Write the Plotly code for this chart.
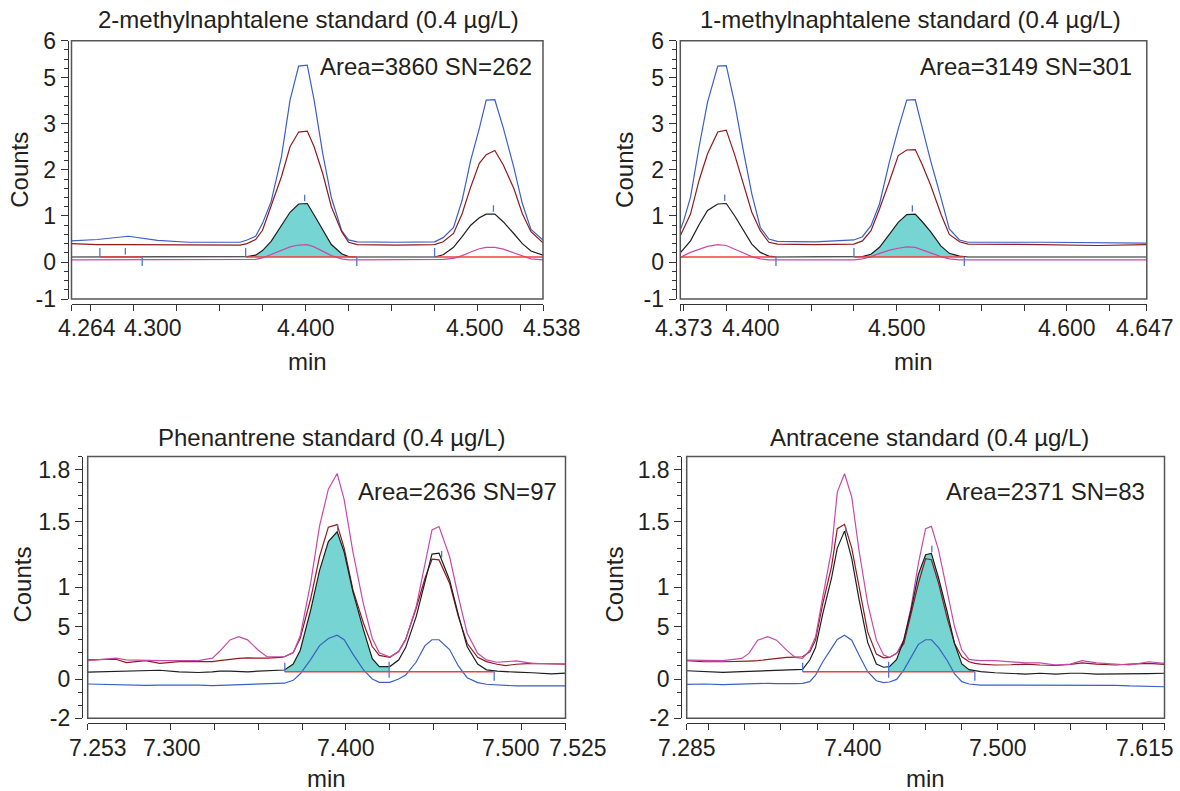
import numpy as np
import plotly.graph_objects as go

W, H = 1180, 791

# ---------------- texts ----------------
titles = ["2-methylnaphtalene standard (0.4 µg/L)", "1-methylnaphtalene standard (0.4 µg/L)",
          "Phenantrene standard (0.4 µg/L)", "Antracene standard (0.4 µg/L)"]
area_text = ["Area=3860 SN=262", "Area=3149 SN=301", "Area=2636 SN=97", "Area=2371 SN=83"]

y_top_tickvals = [-0.8, 0, 1, 2, 3, 4, 4.8]
y_top_ticktext = ["-1", "0", "1", "2", "3", "5", "6"]
y_bot_tickvals = [-0.4, -0.1, 0.3, 0.6, 1.1, 1.5]
y_bot_ticktext = ["-2", "0", "5", "1", "1.5", "1.8"]

# ---------------- 2-methylnaphtalene (top left) ----------------
tl_time = [4.264, 4.279, 4.297, 4.314, 4.332, 4.362, 4.366, 4.371, 4.375, 4.380, 4.386, 4.391, 4.396,
           4.401, 4.405, 4.410, 4.415, 4.421, 4.425, 4.430, 4.453, 4.475, 4.480, 4.486, 4.491, 4.496,
           4.501, 4.505, 4.510, 4.515, 4.521, 4.526, 4.531, 4.538]
tl_blue = [0.46, 0.49, 0.56, 0.47, 0.43, 0.43, 0.48, 0.56, 0.84, 1.31, 2.28, 3.51, 4.25, 4.27, 3.51,
           2.35, 1.40, 0.68, 0.48, 0.44, 0.43, 0.44, 0.53, 0.75, 1.34, 2.21, 2.90, 3.51, 3.52, 2.90,
           2.06, 1.27, 0.71, 0.48]
tl_dred = [0.40, 0.38, 0.38, 0.38, 0.37, 0.37, 0.40, 0.49, 0.69, 1.20, 1.85, 2.50, 2.82, 2.84, 2.50,
           1.92, 1.20, 0.66, 0.43, 0.38, 0.37, 0.38, 0.44, 0.62, 1.05, 1.63, 2.14, 2.33, 2.42, 2.10,
           1.60, 1.05, 0.66, 0.42]
tl_black = [0.11, 0.11, 0.11, 0.11, 0.11, 0.11, 0.12, 0.15, 0.25, 0.45, 0.78, 1.08, 1.26, 1.27, 1.02,
            0.69, 0.38, 0.18, 0.12, 0.11, 0.11, 0.11, 0.16, 0.32, 0.55, 0.80, 0.96, 1.04, 1.04, 0.87,
            0.62, 0.40, 0.24, 0.15]
tl_mag = [0.05, 0.05, 0.05, 0.05, 0.05, 0.05, 0.05, 0.06, 0.09, 0.16, 0.26, 0.33, 0.37, 0.38, 0.33,
          0.24, 0.14, 0.07, 0.05, 0.05, 0.05, 0.05, 0.06, 0.08, 0.14, 0.22, 0.29, 0.32, 0.32, 0.28,
          0.20, 0.12, 0.07, 0.05]
tl_base = 0.11
tl_segs = [(4.2805, 4.3051), (4.3652, 4.4298), (4.4750, 4.538)]
tl_fill = (4.3652, 4.4298)
tl_mark_t = [4.2805, 4.2953, 4.3051, 4.3652, 4.3995, 4.4298, 4.4750, 4.5092]
tl_mark_k = ["up", "apex", "down", "up", "apex", "down", "up", "apex"]
tl_xlab_val = [4.264, 4.300, 4.400, 4.500, 4.538]
tl_xlab_txt = ["4.264", "4.300", "4.400", "4.500", "4.538"]

# ---------------- 1-methylnaphtalene (top right) ----------------
tr_time = [4.373, 4.375, 4.379, 4.384, 4.389, 4.395, 4.400, 4.405, 4.410, 4.415, 4.420, 4.425, 4.430,
           4.452, 4.475, 4.480, 4.485, 4.490, 4.496, 4.501, 4.506, 4.511, 4.515, 4.520, 4.526, 4.531,
           4.537, 4.542, 4.585, 4.618, 4.647]
tr_blue = [0.70, 0.90, 1.41, 2.49, 3.47, 4.25, 4.26, 3.43, 2.42, 1.48, 0.75, 0.50, 0.45, 0.44, 0.48,
           0.55, 0.79, 1.26, 2.20, 2.89, 3.51, 3.52, 2.93, 2.20, 1.41, 0.72, 0.48, 0.43, 0.43, 0.42, 0.41]
tr_dred = [0.57, 0.72, 1.04, 1.77, 2.35, 2.82, 2.86, 2.32, 1.72, 1.08, 0.68, 0.43, 0.39, 0.38, 0.39,
           0.46, 0.68, 1.15, 1.77, 2.31, 2.43, 2.44, 2.12, 1.67, 1.05, 0.60, 0.44, 0.39, 0.38, 0.36, 0.38]
tr_black = [0.20, 0.28, 0.46, 0.81, 1.12, 1.26, 1.27, 1.00, 0.68, 0.39, 0.21, 0.13, 0.11, 0.11, 0.11,
            0.12, 0.17, 0.32, 0.61, 0.86, 1.03, 1.04, 0.88, 0.66, 0.35, 0.19, 0.13, 0.11, 0.11, 0.11, 0.11]
tr_mag = [0.09, 0.14, 0.21, 0.28, 0.34, 0.38, 0.36, 0.28, 0.20, 0.12, 0.07, 0.05, 0.05, 0.05, 0.05,
          0.07, 0.12, 0.19, 0.26, 0.30, 0.33, 0.32, 0.26, 0.20, 0.12, 0.07, 0.05, 0.05, 0.05, 0.05, 0.05]
tr_base = 0.11
tr_segs = [(4.373, 4.4292), (4.4750, 4.5398)]
tr_fill = (4.4750, 4.5398)
tr_mark_t = [4.3991, 4.4292, 4.4750, 4.5093, 4.5398]
tr_mark_k = ["apex", "down", "up", "apex", "down"]
tr_xlab_val = [4.373, 4.400, 4.500, 4.600, 4.647]
tr_xlab_txt = ["4.373", "4.400", "4.500", "4.600", "4.647"]

# ---------------- Phenantrene (bottom left) ----------------
bl_time = [7.253, 7.269, 7.275, 7.286, 7.294, 7.305, 7.316, 7.324, 7.328, 7.334, 7.339, 7.344, 7.350,
           7.355, 7.363, 7.365, 7.370, 7.374, 7.380, 7.385, 7.390, 7.395, 7.399, 7.404, 7.410, 7.415,
           7.419, 7.425, 7.430, 7.434, 7.440, 7.445, 7.449, 7.453, 7.459, 7.464, 7.469, 7.475, 7.480,
           7.486, 7.491, 7.497, 7.506, 7.517, 7.525]
bl_blue = [-0.138, -0.145, -0.146, -0.148, -0.147, -0.145, -0.147, -0.150, -0.148, -0.143, -0.140,
           -0.138, -0.136, -0.134, -0.133, -0.132, -0.11, -0.06, 0.05, 0.155, 0.21, 0.235, 0.20, 0.09,
           -0.03, -0.10, -0.125, -0.125, -0.10, -0.07, 0.03, 0.155, 0.20, 0.20, 0.125, 0.0, -0.09,
           -0.127, -0.140, -0.145, -0.150, -0.153, -0.152, -0.152, -0.153]
bl_dred = [0.046, 0.051, 0.025, 0.041, 0.020, 0.033, 0.033, 0.033, 0.040, 0.051, 0.058, 0.061, 0.060,
           0.059, 0.066, 0.070, 0.102, 0.212, 0.517, 0.836, 1.06, 1.08, 0.90, 0.581, 0.326, 0.148,
           0.08, 0.066, 0.110, 0.204, 0.441, 0.670, 0.815, 0.810, 0.632, 0.377, 0.173, 0.066, 0.033,
           0.013, 0.003, 0.013, 0.020, 0.015, 0.013]
bl_black = [-0.048, -0.043, -0.040, -0.035, -0.033, -0.045, -0.050, -0.045, -0.040, -0.040, -0.043,
            -0.045, -0.040, -0.038, -0.035, -0.031, 0.015, 0.12, 0.43, 0.73, 0.95, 1.025, 0.87, 0.565,
            0.275, 0.055, -0.005, -0.005, 0.045, 0.14, 0.377, 0.632, 0.854, 0.861, 0.657, 0.390, 0.148,
            0.015, -0.030, -0.040, -0.045, -0.048, -0.052, -0.060, -0.055]
bl_mag = [0.041, 0.059, 0.046, 0.041, 0.041, 0.041, 0.041, 0.059, 0.110, 0.199, 0.224, 0.199, 0.122,
          0.071, 0.066, 0.07, 0.10, 0.23, 0.64, 1.07, 1.35, 1.47, 1.27, 0.87, 0.47, 0.21, 0.10, 0.068,
          0.110, 0.199, 0.454, 0.785, 1.039, 1.065, 0.836, 0.530, 0.250, 0.097, 0.046, 0.028, 0.033,
          0.038, 0.020, 0.015, 0.015]
bl_base = -0.044
bl_segs = [(7.3652, 7.4844)]
bl_fill = (7.3652, 7.4246)
bl_mark_t = [7.3652, 7.3953, 7.4246, 7.4545, 7.4844]
bl_mark_k = ["up", "apex", "both", "apex", "down"]
bl_xlab_val = [7.253, 7.300, 7.400, 7.500, 7.525]
bl_xlab_txt = ["7.253", "7.300", "7.400", "7.500", "7.525"]

# ---------------- Antracene (bottom right) ----------------
br_time = [7.285, 7.297, 7.310, 7.323, 7.328, 7.334, 7.341, 7.347, 7.354, 7.360, 7.365, 7.370, 7.374,
           7.379, 7.385, 7.389, 7.394, 7.399, 7.404, 7.410, 7.416, 7.421, 7.425, 7.430, 7.435, 7.440,
           7.445, 7.450, 7.454, 7.459, 7.465, 7.470, 7.475, 7.480, 7.484, 7.488, 7.498, 7.509, 7.519,
           7.529, 7.540, 7.550, 7.558, 7.568, 7.581, 7.591, 7.604, 7.615]
br_blue = [-0.141, -0.138, -0.143, -0.138, -0.136, -0.133, -0.133, -0.135, -0.138, -0.135, -0.133,
           -0.120, -0.070, 0.032, 0.134, 0.202, 0.235, 0.197, 0.083, -0.044, -0.113, -0.128, -0.123,
           -0.103, -0.03, 0.07, 0.165, 0.20, 0.20, 0.14, 0.04, -0.06, -0.12, -0.138, -0.143, -0.146,
           -0.146, -0.146, -0.148, -0.146, -0.148, -0.146, -0.146, -0.151, -0.148, -0.153, -0.155, -0.159]
br_dred = [0.040, 0.032, 0.032, 0.032, 0.037, 0.040, 0.050, 0.060, 0.065, 0.068, 0.070, 0.108, 0.197,
           0.477, 0.756, 1.049, 1.082, 0.90, 0.60, 0.26, 0.09, 0.062, 0.065, 0.096, 0.172, 0.401, 0.629,
           0.820, 0.812, 0.629, 0.362, 0.172, 0.070, 0.032, 0.019, 0.014, 0.007, 0.009, 0.014, 0.007,
           0.004, 0.012, 0.024, 0.014, 0.007, 0.014, 0.019, 0.012]
br_black = [-0.037, -0.040, -0.049, -0.044, -0.042, -0.040, -0.037, -0.035, -0.033, -0.030, -0.026,
            0.045, 0.14, 0.40, 0.67, 0.90, 1.03, 0.82, 0.51, 0.18, 0.015, -0.01, -0.005, 0.05, 0.20,
            0.43, 0.70, 0.85, 0.86, 0.67, 0.41, 0.17, 0.015, -0.028, -0.038, -0.044, -0.052, -0.056,
            -0.062, -0.056, -0.062, -0.056, -0.056, -0.062, -0.062, -0.064, -0.059, -0.056]
br_mag = [0.045, 0.040, 0.040, 0.057, 0.096, 0.197, 0.223, 0.197, 0.121, 0.065, 0.057, 0.121, 0.223,
          0.527, 0.883, 1.328, 1.468, 1.290, 0.883, 0.477, 0.197, 0.083, 0.065, 0.096, 0.197, 0.451,
          0.782, 1.049, 1.066, 0.883, 0.578, 0.299, 0.121, 0.050, 0.045, 0.040, 0.040, 0.032, 0.024,
          0.024, 0.007, 0.014, 0.040, 0.024, 0.014, 0.007, 0.032, 0.019]
br_base = -0.044
br_segs = [(7.3651, 7.4840)]
br_fill = (7.4245, 7.4840)
br_mark_t = [7.3651, 7.3948, 7.4245, 7.4543, 7.4840]
br_mark_k = ["up", "apex", "both", "apex", "down"]
br_xlab_val = [7.285, 7.400, 7.500, 7.615]
br_xlab_txt = ["7.285", "7.400", "7.500", "7.615"]

# ---------------- styling ----------------
FONT = "Liberation Sans, Arial, Helvetica, sans-serif"
TXT = "#231f20"
AX = "#333333"
FRAME = "#555555"
BLUE = "#3b5fc4"
DRED = "#8e1b1e"
BLACK = "#1e1e1e"
MAG = "#c64aa9"
RED = "#ee4040"
CYAN = "#76d5d2"
MARK = "#5173cc"
LW = 1.2

panels = [
    dict(time=tl_time, blue=tl_blue, dred=tl_dred, black=tl_black, mag=tl_mag, base=tl_base,
         segs=tl_segs, fill=tl_fill, mk_t=tl_mark_t, mk_k=tl_mark_k, xlv=tl_xlab_val, xlt=tl_xlab_txt,
         xshift=[15, 20, 0, -3, 9], xr=(4.264, 4.538), step=0.025, top=True,
         box=(71.5, 543.0, 40.7, 299.0), yline=67.7, counts_x=18.8, area_in=9, title_dx=1),
    dict(time=tr_time, blue=tr_blue, dred=tr_dred, black=tr_black, mag=tr_mag, base=tr_base,
         segs=tr_segs, fill=tr_fill, mk_t=tr_mark_t, mk_k=tr_mark_k, xlv=tr_xlab_val, xlt=tr_xlab_txt,
         xshift=[4, 25, 0, 0, -2], xr=(4.373, 4.647), step=0.025, top=True,
         box=(680.3, 1146.8, 40.7, 299.0), yline=675.8, counts_x=623.9, area_in=13, title_dx=-3),
    dict(time=bl_time, blue=bl_blue, dred=bl_dred, black=bl_black, mag=bl_mag, base=bl_base,
         segs=bl_segs, fill=bl_fill, mk_t=bl_mark_t, mk_k=bl_mark_k, xlv=bl_xlab_val, xlt=bl_xlab_txt,
         xshift=[10, 2, 0, -11, 12], xr=(7.253, 7.525), step=0.025, top=False,
         box=(87.7, 565.5, 456.5, 718.3), yline=82.0, counts_x=21.6, area_in=7, title_dx=5),
    dict(time=br_time, blue=br_blue, dred=br_dred, black=br_black, mag=br_mag, base=br_base,
         segs=br_segs, fill=br_fill, mk_t=br_mark_t, mk_k=br_mark_k, xlv=br_xlab_val, xlt=br_xlab_txt,
         xshift=[0, 0, 0, -20], xr=(7.285, 7.615), step=0.025, top=False,
         box=(686.7, 1164.5, 456.5, 718.3), yline=681.4, counts_x=613.5, area_in=18, title_dx=4),
]


def fx(px):
    return px / W


def fy(py):
    return 1 - py / H


fig = go.Figure()
layout = dict(width=W, height=H, margin=dict(l=0, r=0, t=0, b=0, pad=0, autoexpand=False),
              autosize=False, paper_bgcolor="white", plot_bgcolor="white", showlegend=False,
              hovermode=False, font=dict(family=FONT, color=TXT))
annotations = []
shapes = []


def label(x, y, text, size=24, angle=0, xanchor="center", xref="paper", xshift=0):
    return dict(x=x, y=y, xref=xref, yref="paper", text=text, showarrow=False, textangle=angle,
                xanchor=xanchor, yanchor="middle", xshift=xshift,
                font=dict(size=size, family=FONT, color=TXT))


for i, p in enumerate(panels):
    s = "" if i == 0 else str(i + 1)
    xa, ya = "x" + s, "y" + s
    L, R, T, B = p["box"]
    if p["top"]:
        yr = (-0.8, 4.8)
        tv, tt, mdt = y_top_tickvals, y_top_ticktext, 0.2
        row = dict(title=20, area=67, xlab=328, minlab=362, counts=170, xline=303.5)
    else:
        yr = (-0.4, 1.6)
        tv, tt, mdt = y_bot_tickvals, y_bot_ticktext, 0.1
        row = dict(title=437, area=492, xlab=748, minlab=778, counts=585, xline=723.0)
    upp = (yr[1] - yr[0]) / (B - T)  # data units per pixel

    t = np.array(p["time"])
    blk = np.array(p["black"])

    # integrated area (cyan)
    f0, f1 = p["fill"]
    inner = t[(t > f0) & (t < f1)]
    ftx = np.concatenate([[f0], inner, [f1]])
    fty = np.interp(ftx, t, blk)
    fig.add_trace(go.Scatter(x=np.concatenate([ftx, [f1, f0]]),
                             y=np.concatenate([fty, [p["base"], p["base"]]]),
                             fill="toself", fillcolor=CYAN, mode="lines",
                             line=dict(width=0, color="rgba(0,0,0,0)"),
                             xaxis=xa, yaxis=ya, hoverinfo="skip"))

    for key, col in (("blue", BLUE), ("dred", DRED), ("mag", MAG), ("black", BLACK)):
        fig.add_trace(go.Scatter(x=t, y=p[key], mode="lines", line=dict(color=col, width=LW),
                                 xaxis=xa, yaxis=ya, hoverinfo="skip"))

    # baseline segments
    sx, sy = [], []
    for a, b in p["segs"]:
        sx += [a, b, None]
        sy += [p["base"], p["base"], None]
    fig.add_trace(go.Scatter(x=sx, y=sy, mode="lines", line=dict(color=RED, width=1.4),
                             xaxis=xa, yaxis=ya, hoverinfo="skip"))

    # peak start / apex / end markers
    mx, my = [], []
    for mt, mk in zip(p["mk_t"], p["mk_k"]):
        base = p["base"]
        if mk == "up":
            y0, y1 = base, base + 9 * upp
        elif mk == "down":
            y0, y1 = base - 9 * upp, base
        elif mk == "both":
            y0, y1 = base - 6 * upp, base + 10 * upp
        else:
            pk = float(np.interp(mt, t, blk))
            y0, y1 = pk + 2.5 * upp, pk + 9 * upp
        mx += [mt, mt, None]
        my += [y0, y1, None]
    fig.add_trace(go.Scatter(x=mx, y=my, mode="lines", line=dict(color=MARK, width=1.3),
                             xaxis=xa, yaxis=ya, hoverinfo="skip"))

    # axes
    x0, x1 = p["xr"]
    first = np.ceil(round(x0 / p["step"], 6)) * p["step"]
    xt = [x0] + [round(v, 3) for v in np.arange(first, x1 - 1e-9, p["step"]) if v > x0 + 1e-9] + [x1]
    layout["xaxis" + s] = dict(domain=[fx(L), fx(R)], range=[x0, x1], anchor="free",
                               position=fy(row["xline"]), showline=True, linecolor=AX, linewidth=1.3,
                               ticks="outside", tickmode="array", tickvals=xt, ticklen=6,
                               tickcolor=AX, tickwidth=1.2, showticklabels=False, showgrid=False,
                               zeroline=False, fixedrange=True, automargin=False)
    layout["yaxis" + s] = dict(domain=[fy(B), fy(T)], range=[yr[0] - 1e-4, yr[1] + 1e-4],
                               anchor="free", position=fx(p["yline"]), showline=True, linecolor=AX,
                               linewidth=1.3, ticks="outside", tickmode="array", tickvals=tv,
                               ticktext=tt, ticklen=7, tickcolor=AX, tickwidth=1.2,
                               tickfont=dict(size=23, family=FONT, color=TXT),
                               minor=dict(ticks="outside", ticklen=4, tickcolor=AX, tickwidth=1,
                                          tick0=0, dtick=mdt, showgrid=False),
                               showgrid=False, zeroline=False, fixedrange=True, automargin=False)

    # frame
    shapes.append(dict(type="rect", xref=xa + " domain", yref=ya + " domain", x0=0, x1=1, y0=0, y1=1,
                       line=dict(color=FRAME, width=1.5), layer="above"))

    # x tick labels
    for v, txt, dx in zip(p["xlv"], p["xlt"], p["xshift"]):
        annotations.append(label(v, fy(row["xlab"]), txt, size=23, xref=xa, xshift=dx))
    # axis titles, panel title, area text
    annotations.append(label(fx((L + R) / 2), fy(row["minlab"]), "min"))
    annotations.append(label(fx(p["counts_x"]), fy(row["counts"]), "Counts", angle=-90))
    annotations.append(label(fx((L + R) / 2 + p["title_dx"]), fy(row["title"]), titles[i]))
    annotations.append(label(fx(R - p["area_in"]), fy(row["area"]), area_text[i], xanchor="right"))

layout["annotations"] = annotations
layout["shapes"] = shapes
fig.update_layout(**layout)
fig.write_html("out.html")
